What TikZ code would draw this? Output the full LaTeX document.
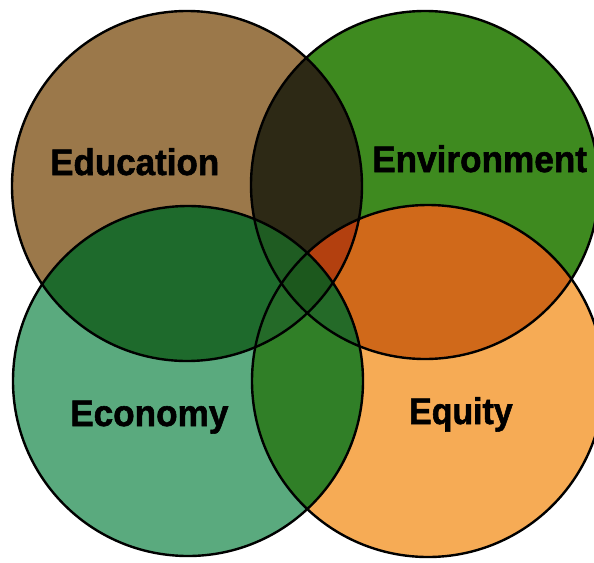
\documentclass[tikz,border=0pt]{standalone}
\usepackage{fontspec}
\setmainfont{Liberation Sans}
\newfontfamily\heavyfont{Liberation Sans}[BoldFeatures={FakeBold=1.6}]
\definecolor{cEdu}{HTML}{9B784A}
\definecolor{cEnv}{HTML}{3E8A1F}
\definecolor{cEco}{HTML}{5AAA7E}
\definecolor{cEqu}{HTML}{F6AB55}
\definecolor{cAB}{HTML}{2D2915}
\definecolor{cAC}{HTML}{1E6A2C}
\definecolor{cBD}{HTML}{D0691A}
\definecolor{cCD}{HTML}{307F27}
\definecolor{cAD}{HTML}{266A26}
\definecolor{cBC}{HTML}{266A26}
\definecolor{cABD}{HTML}{B3400F}
\definecolor{cABC}{HTML}{1F5C22}
\definecolor{cACD}{HTML}{246A28}
\definecolor{cBCD}{HTML}{246A28}
\definecolor{cABCD}{HTML}{1C581D}
\tikzset{
  lbl/.style={anchor=base west, inner sep=0pt, text=black,
              font=\fontsize{37}{40}\heavyfont\bfseries},
  ring/.style={draw=black, line width=2.4pt}
}
\def\cA{(187,186) circle[radius=175pt]}
\def\cB{(425,185) circle[radius=174pt]}
\def\cC{(188,381) circle[radius=175pt]}
\def\cD{(428,381) circle[radius=176pt]}
\begin{document}
\begin{tikzpicture}[x=1pt,y=-1pt]
\useasboundingbox (0,0) rectangle (594,562);
\fill[white] (0,0) rectangle (594,562);
% single circles
\fill[cEdu] \cA;
\fill[cEnv] \cB;
\fill[cEco] \cC;
\fill[cEqu] \cD;
% pairwise
\begin{scope}\clip \cA; \fill[cAB] \cB; \fill[cAC] \cC; \fill[cAD] \cD; \end{scope}
\begin{scope}\clip \cB; \fill[cBD] \cD; \fill[cBC] \cC; \end{scope}
\begin{scope}\clip \cC; \fill[cCD] \cD; \end{scope}
% triples
\begin{scope}\clip \cA; \clip \cB; \fill[cABD] \cD; \fill[cABC] \cC; \end{scope}
\begin{scope}\clip \cA; \clip \cC; \fill[cACD] \cD; \end{scope}
\begin{scope}\clip \cB; \clip \cC; \fill[cBCD] \cD; \end{scope}
\begin{scope}\clip \cA; \clip \cB; \clip \cC; \fill[cABCD] \cD; \end{scope}
% outlines
\draw[ring] \cA;
\draw[ring] \cB;
\draw[ring] \cC;
\draw[ring] \cD;
% labels
\node[lbl] (edu) at (50,175) {\scalebox{0.945}[1]{Education}};
\node[lbl] (env) at (372,172) {\scalebox{0.95}[1]{Environment}};
\node[lbl] (eco) at (70,426) {\scalebox{0.95}[1]{Economy}};
\node[lbl] (equ) at (409,424) {\scalebox{0.915}[1]{Equity}};
\end{tikzpicture}
\end{document}
